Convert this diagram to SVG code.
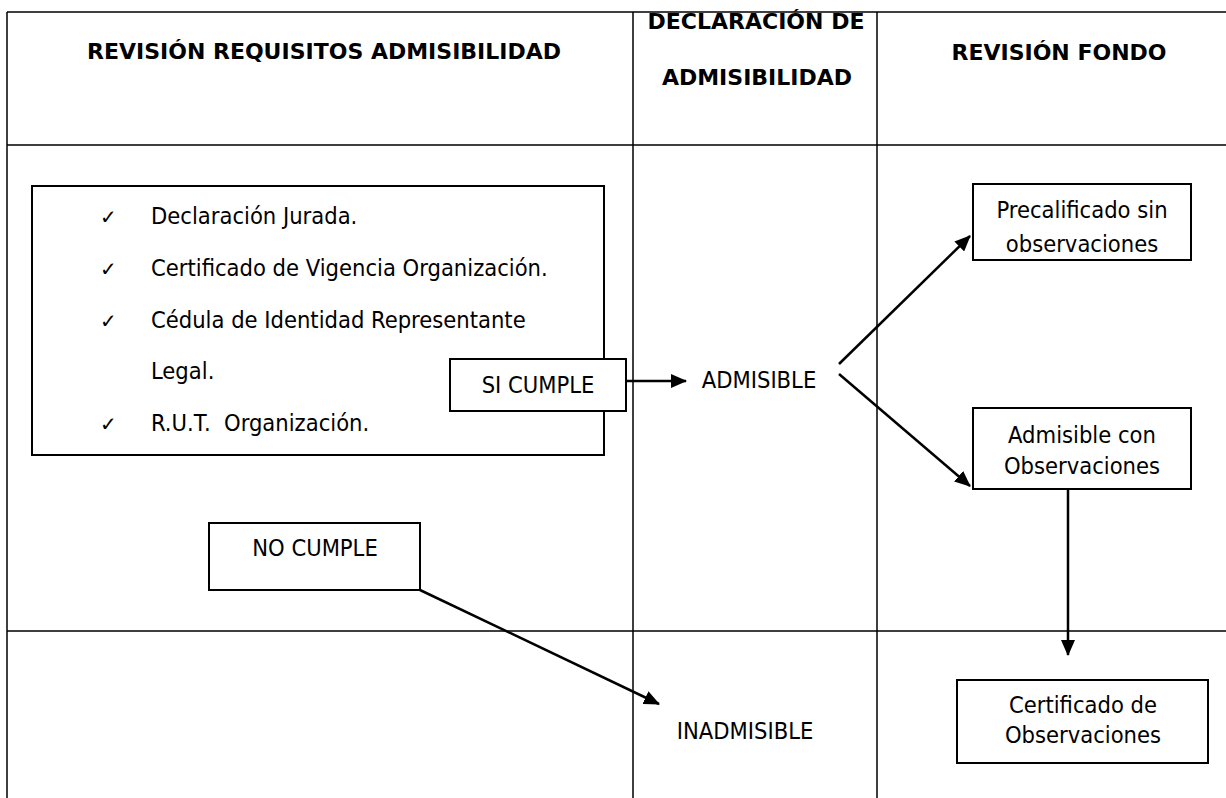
<svg xmlns="http://www.w3.org/2000/svg" width="1226" height="798" viewBox="0 0 1226 798">
<defs>
<style>
.grid{stroke:#000;stroke-width:1.5;fill:none}
.box{fill:#fff;stroke:#000;stroke-width:2}
.h{font-family:"DejaVu Sans",Verdana,sans-serif;font-weight:bold;font-size:22px;fill:#000}
.t{font-family:"DejaVu Sans Condensed","DejaVu Sans",sans-serif;font-size:23.5px;fill:#000}
.ck{font-family:"DejaVu Sans",sans-serif;font-size:20px;fill:#000}
.c{text-anchor:middle}
.ln{stroke:#000;stroke-width:2.5;fill:none}
</style>
<marker id="ah" markerWidth="16" markerHeight="14" refX="15" refY="7" orient="auto" markerUnits="userSpaceOnUse" viewBox="0 0 16 14">
<path d="M0,0 L16,7 L0,14 z" fill="#000"/>
</marker>
</defs>
<rect width="1226" height="798" fill="#fff"/>
<g id="table">
<path class="grid" d="M7,12 H1226 M7,12 V798 M7,145 H1226 M7,631 H1226 M633,12 V798 M877,12 V798"/>
<text class="h c" x="324" y="59">REVISIÓN REQUISITOS ADMISIBILIDAD</text>
<text class="h c" x="756" y="29">DECLARACIÓN DE</text>
<text class="h c" x="757" y="85">ADMISIBILIDAD</text>
<text class="h c" x="1059" y="60">REVISIÓN FONDO</text>
</g>
<g id="checklist">
<rect class="box" x="32" y="186" width="572" height="269"/>
<text class="ck" x="100" y="224">✓</text><text class="t" x="151" y="224">Declaración Jurada.</text>
<text class="ck" x="100" y="276">✓</text><text class="t" x="151" y="276">Certificado de Vigencia Organización.</text>
<text class="ck" x="100" y="328">✓</text><text class="t" x="151" y="328">Cédula de Identidad Representante</text>
<text class="t" x="151" y="379">Legal.</text>
<text class="ck" x="100" y="431">✓</text><text class="t" x="151" y="431">R.U.T.&#160; Organización.</text>
</g>
<g id="si-cumple">
<rect class="box" x="450" y="359" width="176" height="52"/>
<text class="t c" x="538" y="393">SI CUMPLE</text>
</g>
<g id="admisible">
<text class="t c" x="759" y="388">ADMISIBLE</text>
</g>
<g id="precalificado">
<rect class="box" x="973" y="184" width="218" height="76"/>
<text class="t c" x="1082" y="218">Precalificado sin</text>
<text class="t c" x="1082" y="252">observaciones</text>
</g>
<g id="admisible-obs">
<rect class="box" x="973" y="408" width="218" height="81"/>
<text class="t c" x="1082" y="443">Admisible con</text>
<text class="t c" x="1082" y="474">Observaciones</text>
</g>
<g id="certificado">
<rect class="box" x="957" y="680" width="251" height="83"/>
<text class="t c" x="1083" y="713">Certificado de</text>
<text class="t c" x="1083" y="743">Observaciones</text>
</g>
<g id="no-cumple">
<rect class="box" x="209" y="523" width="211" height="67"/>
<text class="t c" x="315" y="556">NO CUMPLE</text>
</g>
<g id="inadmisible">
<text class="t c" x="745" y="739">INADMISIBLE</text>
</g>
<g id="connectors">
<line class="ln" x1="626" y1="381" x2="686" y2="381" marker-end="url(#ah)"/>
<line class="ln" x1="839" y1="364" x2="970" y2="236" marker-end="url(#ah)"/>
<line class="ln" x1="839" y1="374" x2="970" y2="486" marker-end="url(#ah)"/>
<line class="ln" x1="1068" y1="489" x2="1068" y2="655" marker-end="url(#ah)"/>
<line class="ln" x1="420" y1="590" x2="659" y2="704" marker-end="url(#ah)"/>
</g>
</svg>
